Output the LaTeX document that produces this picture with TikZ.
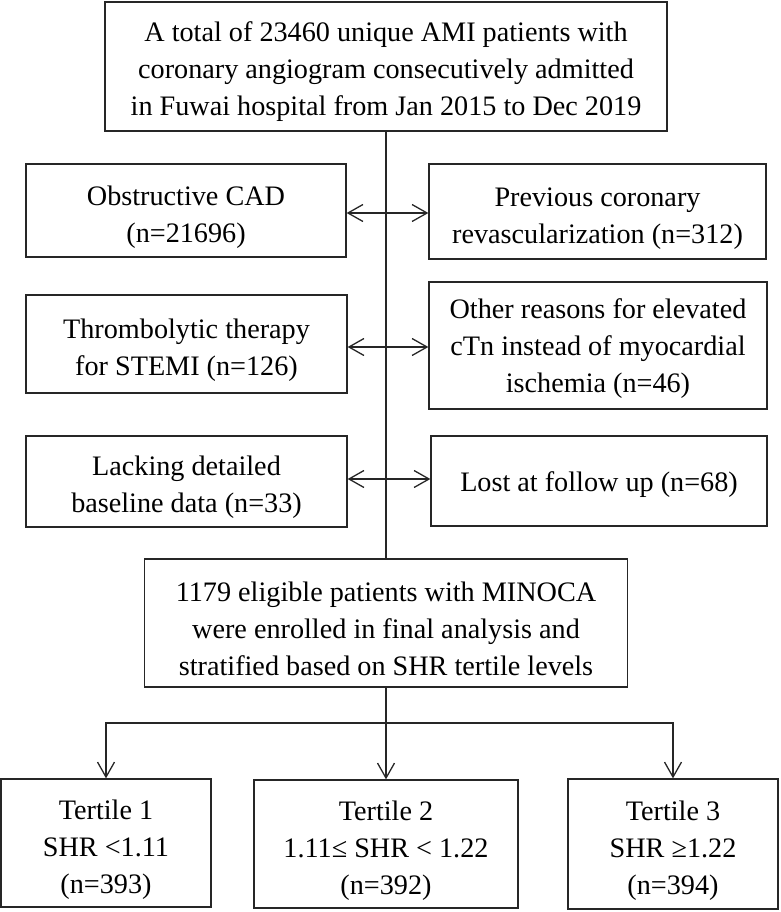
\documentclass[tikz,border=0pt]{standalone}
\usepackage{fontspec}
\setmainfont{Liberation Serif}
\usetikzlibrary{arrows.meta}
\newcommand\boxtext[2][5pt]{\raisebox{0pt}[\dimexpr\height+#1+#1\relax][\depth]{\begin{tabular}{@{}c@{}}#2\end{tabular}}}
\tikzset{
  box/.style={draw=black!85, line width=1.3pt, inner sep=0pt, align=center,
    font=\fontsize{28.2pt}{37pt}\selectfont},
  link/.style={draw=black!85, line width=1.3pt},
  arr/.style={link, -{Straight Barb[length=15pt,width=17pt,line width=1.3pt]}},
  darr/.style={link, {Straight Barb[length=15pt,width=17pt,line width=1.3pt]}-{Straight Barb[length=15pt,width=17pt,line width=1.3pt]}}
}
\begin{document}
\begin{tikzpicture}[x=1pt,y=-1pt]
\useasboundingbox (0,0) rectangle (780,912);
\node[box, minimum width=562pt, minimum height=129pt] (top) at (386,66.5)
  {\boxtext{A total of 23460 unique AMI patients with\\coronary angiogram consecutively admitted\\in Fuwai hospital from Jan 2015 to Dec 2019}};
\node[box, minimum width=320pt, minimum height=93pt] (l1) at (186,210.5) {\boxtext[6pt]{Obstructive CAD\\(n=21696)}};
\node[box, minimum width=337pt, minimum height=95pt] (r1) at (597.5,211.5) {\boxtext[6pt]{Previous coronary\\revascularization (n=312)}};
\node[box, minimum width=321pt, minimum height=98pt] (l2) at (186.5,344) {\boxtext[6pt]{Thrombolytic therapy\\for STEMI (n=126)}};
\node[box, minimum width=338pt, minimum height=127pt] (r2) at (598,345.5) {\boxtext[3pt]{Other reasons for elevated\\cTn instead of myocardial\\ischemia (n=46)}};
\node[box, minimum width=321pt, minimum height=91pt] (l3) at (186.5,481.5) {\boxtext[5pt]{Lacking detailed\\baseline data (n=33)}};
\node[box, minimum width=336pt, minimum height=90pt] (r3) at (599,481) {\boxtext[3pt]{Lost at follow up (n=68)}};
\node[box, minimum width=483pt, minimum height=128pt] (mid) at (386,623)
  {\boxtext[8pt]{1179 eligible patients with MINOCA\\were enrolled in final analysis and\\stratified based on SHR tertile levels}};
\node[box, minimum width=210pt, minimum height=128pt] (t1) at (106,843) {\boxtext[6pt]{Tertile 1\\SHR <1.11\\(n=393)}};
\node[box, minimum width=264pt, minimum height=128pt] (t2) at (386,844) {\boxtext[6pt]{Tertile 2\\1.11≤ SHR < 1.22\\(n=392)}};
\node[box, minimum width=210pt, minimum height=130pt] (t3) at (673,844) {\boxtext[6pt]{Tertile 3\\SHR ≥1.22\\(n=394)}};
\coordinate (a1) at (386,213);
\coordinate (a2) at (386,347);
\coordinate (a3) at (386,479);
\coordinate (br) at (386,723);
\draw[link] (top.south) -- (mid.north);
\draw[darr] (l1.east |- a1) -- (r1.west |- a1);
\draw[darr] (l2.east |- a2) -- (r2.west |- a2);
\draw[darr] (l3.east |- a3) -- (r3.west |- a3);
\draw[arr] (mid.south) -- (t2.north);
\draw[arr] (br) -| (t1.north);
\draw[arr] (br) -| (t3.north);
\end{tikzpicture}
\end{document}
